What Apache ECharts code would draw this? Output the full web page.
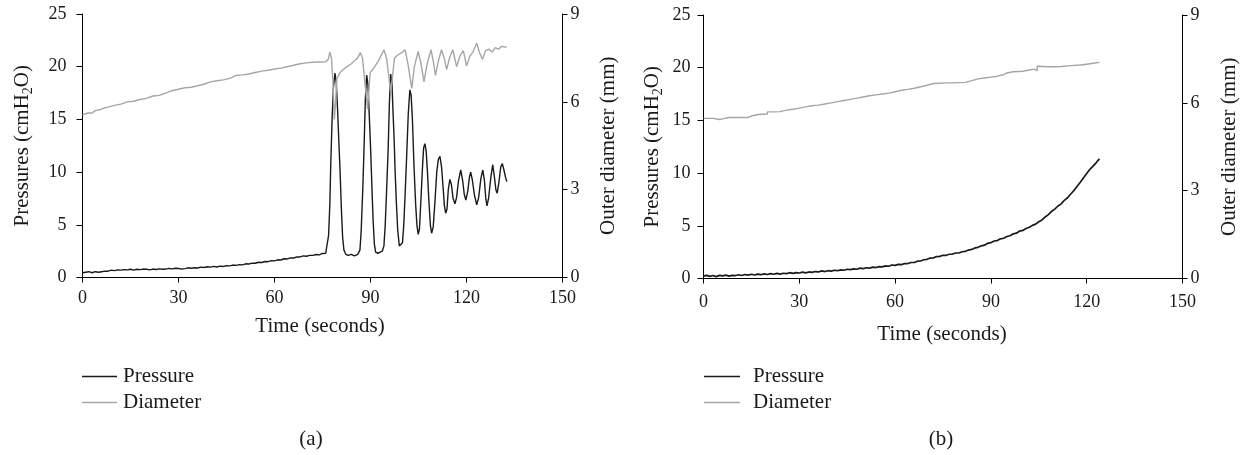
<!DOCTYPE html>
<html>
<head>
<meta charset="utf-8">
<script src="https://cdn.jsdelivr.net/npm/echarts@6/dist/echarts.min.js"></script>
<style>
html,body{margin:0;padding:0;background:#fff;}
#chart{width:1245px;height:455px;}
</style>
</head>
<body>
<div id="chart"></div>
<script>
// ---- Data (time in seconds) ----
const xTicks = [0, 30, 60, 90, 120, 150];
const leftTicks = [0, 5, 10, 15, 20, 25];
const rightTicks = [0, 3, 6, 9];
const seriesNames = ['Pressure', 'Diameter'];
const panelLabels = ['(a)', '(b)'];

// Panel (a): pressure (cmH2O)
const pressureA = [
[0,0.45],[0.5,0.6],[1,0.5],[2,0.55],[3,0.45],[4,0.55],[5,0.5],[6,0.55],[7,0.6],[8,0.6],[9,0.7],[10,0.65],[11,0.72],[12,0.7],[13,0.75],[14,0.72],[15,0.78],[16,0.7],[17,0.78],[18,0.75],[19,0.8],[20,0.78],[21,0.72],[22,0.8],[23,0.76],[24,0.82],[25,0.78],[26,0.8],[27,0.86],[28,0.82],[29,0.88],[30,0.85],[31,0.8],[32,0.84],[33,0.92],[34,0.88],[35,0.92],[36,0.9],[37,0.98],[38,0.95],[39,1.02],[40,0.98],[41,1.05],[42,1.0],[43,1.08],[44,1.05],[45,1.12],[46,1.1],[47,1.18],[48,1.15],[49,1.22],[50,1.2],[51,1.3],[52,1.28],[53,1.36],[54,1.35],[55,1.45],[56,1.42],[57,1.52],[58,1.5],[59,1.6],[60,1.58],[61,1.68],[62,1.66],[63,1.78],[64,1.76],[65,1.86],[66,1.85],[67,1.95],[68,1.95],[69,2.05],[70,2.02],[71,2.1],[72,2.1],[73,2.18],[74,2.15],[75,2.28],[76,2.3],[76.5,2.45],
[76.9,4],[77.3,7],[77.6,11],[78.0,15],[78.4,18],[78.9,19.4],[79.3,18.5],[79.7,16],[80.1,13],[80.5,10],[80.9,6.5],[81.3,3.8],[81.7,2.6],[82.3,2.2],[83,2.1],[84,2.2],[85,2.05],[86,2.2],[86.7,2.6],
[87.1,4.5],[87.6,8.5],[88.0,12.5],[88.4,17],[88.8,19.2],[89.2,18.3],[89.6,15.5],[90.0,12.5],[90.4,9],[90.8,5.5],[91.2,3.2],[91.6,2.4],[92.3,2.3],[93,2.4],[93.7,2.5],[94.2,3.0],
[94.6,5],[95.0,8],[95.5,12],[95.9,16.5],[96.3,19.3],[96.7,18.5],[97.0,16],[97.4,13],[97.7,10],[98.1,7],[98.5,4.5],[99.0,3.0],[99.5,2.9],[100.0,3.3],
[100.4,5],[100.9,8.5],[101.3,11.5],[101.8,15.5],[102.3,17.8],[102.7,17.3],[103.1,15],[103.6,10.5],[104.1,7],[104.5,5],[104.9,4.1],[105.3,4.6],[105.7,7],[106.2,10.2],[106.6,12.3],[107,12.7],[107.4,12],[107.8,10],[108.2,7.5],[108.7,5],[109.1,4.2],[109.6,4.8],[110.1,7],[110.7,10],[111.2,11.2],[111.7,11.5],[112.2,10.5],[112.7,8.5],[113.1,6.8],[113.5,6.1],[113.9,6.5],[114.3,8.3],[114.8,9.3],[115.3,8.8],[115.8,7.5],[116.4,7.0],[116.9,7.6],[117.5,9.2],[118.2,10.2],[118.8,9.2],[119.3,7.9],[119.8,7.35],[120.4,8.2],[120.9,9.5],[121.3,10],[121.8,9.3],[122.5,7.8],[123.2,6.9],[123.8,7.6],[124.5,9.4],[125.1,10.2],[125.6,9.2],[126,7.6],[126.4,6.8],[126.9,7.5],[127.6,9.5],[128.2,10.7],[128.7,9.6],[129.2,8.3],[129.6,8.0],[130.2,9.2],[130.7,10.5],[131.2,10.8],[131.7,10.2],[132.2,9.5],[132.6,9.1]
];

// Panel (a): outer diameter (mm)
const diameterA = [
[0,5.55],[1,5.6],[2,5.62],[3,5.62],[4,5.7],[5,5.72],[6,5.75],[7,5.8],[8,5.82],[10,5.88],[12,5.92],[14,6.0],[16,6.02],[18,6.08],[20,6.12],[22,6.2],[24,6.22],[26,6.3],[28,6.38],[30,6.43],[32,6.48],[34,6.5],[36,6.55],[38,6.6],[40,6.68],[42,6.72],[44,6.75],[46,6.8],[48,6.9],[50,6.92],[52,6.95],[54,7.0],[56,7.05],[58,7.08],[60,7.12],[62,7.15],[64,7.2],[66,7.25],[68,7.3],[70,7.33],[72,7.35],[74,7.36],[76,7.37],[76.8,7.45],
[77.3,7.7],[77.8,7.5],[78.3,6.6],[78.7,5.4],[79.1,6.0],[79.5,6.8],[80.5,7.0],[82,7.15],[84,7.3],[86,7.5],[86.8,7.68],[87.5,7.5],[88.3,6.6],[89.1,5.75],[89.5,6.4],[89.9,7.0],[91,7.15],[92.5,7.4],[94.2,7.78],[95,7.5],[95.7,6.9],[96.3,6.35],[96.9,6.9],[97.5,7.5],[98.5,7.6],[100,7.7],[100.8,7.78],[101.7,7.3],[102.9,6.46],[103.7,7.2],[104.9,7.72],[105.8,7.3],[106.7,6.68],[107.7,7.3],[108.9,7.78],[109.6,7.4],[110.3,6.9],[111.2,7.4],[112.2,7.78],[113,7.5],[113.8,7.1],[114.7,7.5],[115.7,7.78],[116.3,7.5],[116.9,7.2],[117.9,7.55],[119,7.75],[119.5,7.5],[120,7.22],[121,7.55],[122,7.7],[123.2,8.0],[124,7.7],[125,7.45],[126,7.75],[127,7.8],[128,7.7],[129,7.85],[130,7.8],[131,7.9],[132,7.87],[132.6,7.88]
];

// Panel (b): pressure (cmH2O)
const pressureB = [
[0,0.22],[1,0.3],[2,0.2],[3,0.28],[4,0.18],[5,0.3],[6,0.25],[7,0.32],[8,0.22],[9,0.3],[10,0.28],[11,0.36],[12,0.28],[13,0.38],[14,0.32],[15,0.4],[16,0.33],[17,0.42],[18,0.36],[19,0.44],[20,0.38],[21,0.46],[22,0.4],[23,0.48],[24,0.42],[25,0.5],[26,0.46],[27,0.55],[28,0.48],[29,0.56],[30,0.52],[31,0.6],[32,0.54],[33,0.62],[34,0.58],[35,0.66],[36,0.62],[37,0.72],[38,0.66],[39,0.74],[40,0.7],[41,0.78],[42,0.74],[43,0.82],[44,0.78],[45,0.88],[46,0.84],[47,0.92],[48,0.88],[49,0.98],[50,0.94],[51,1.02],[52,0.98],[53,1.08],[54,1.04],[55,1.12],[56,1.1],[57,1.2],[58,1.16],[59,1.28],[60,1.24],[61,1.34],[62,1.32],[63,1.42],[64,1.42],[65,1.52],[66,1.52],[67,1.64],[68,1.66],[69,1.78],[70,1.82],[71,1.94],[72,1.96],[73,2.08],[74,2.1],[75,2.2],[76,2.2],[77,2.3],[78,2.32],[79,2.42],[80,2.42],[81,2.54],[82,2.58],[83,2.7],[84,2.76],[85,2.9],[86,2.96],[87,3.1],[88,3.16],[89,3.34],[90,3.4],[91,3.56],[92,3.6],[93,3.76],[94,3.82],[95,3.98],[96,4.06],[97,4.24],[98,4.3],[99,4.5],[100,4.56],[101,4.74],[102,4.86],[103,5.04],[104,5.16],[105,5.38],[106,5.56],[107,5.84],[108,6.06],[109,6.36],[110,6.58],[111,6.88],[112,7.08],[113,7.42],[114,7.66],[115,8.02],[116,8.34],[117,8.76],[118,9.14],[119,9.56],[120,9.96],[121,10.36],[122,10.66],[123,11.0],[124,11.35]
];

// Panel (b): outer diameter (mm)
const diameterB = [
[0,5.47],[3,5.47],[3.5,5.43],[5,5.45],[6,5.5],[8,5.5],[10,5.5],[12,5.5],[14,5.55],[15,5.6],[17,5.62],[20,5.69],[22,5.7],[24,5.75],[26,5.78],[28,5.82],[30,5.86],[32,5.9],[34,5.92],[36,5.96],[38,6.0],[40,6.04],[42,6.08],[44,6.12],[46,6.16],[48,6.2],[50,6.24],[52,6.27],[54,6.3],[56,6.33],[58,6.38],[60,6.43],[62,6.46],[64,6.5],[66,6.55],[68,6.6],[70,6.66],[72,6.67],[74,6.68],[76,6.68],[78,6.69],[80,6.7],[82,6.76],[84,6.82],[86,6.85],[88,6.88],[90,6.91],[92,6.96],[94,7.02],[95,7.06],[97,7.08],[100,7.12],[102,7.15],[103.5,7.2],[104,7.1],[104.5,7.25],[105,7.23],[108,7.23],[110,7.24],[112,7.27],[115,7.29],[118,7.32],[120,7.35],[122,7.38],[124,7.4]
];

// ---- Chart ----
const FONT = '"Liberation Serif", "Times New Roman", serif';
const TXT = '#1a1a1a';
const C_P = '#1a1a1a';
const C_D = '#a6a6a6';

const chart = echarts.init(document.getElementById('chart'), null, {renderer: 'canvas'});

function xAxisCfg(gridIndex, lm) {
  return {
    gridIndex, type: 'value', min: xTicks[0], max: xTicks[xTicks.length - 1],
    interval: xTicks[1] - xTicks[0],
    axisLine: {show: true, lineStyle: {color: '#000', width: 1}},
    axisTick: {show: true, length: 5, lineStyle: {color: '#000'}},
    splitLine: {show: false},
    axisLabel: {color: TXT, fontFamily: FONT, fontSize: 18, margin: lm}
  };
}
function leftAxisCfg(gridIndex, gap, lm) {
  return {
    gridIndex, type: 'value', position: 'left',
    min: leftTicks[0], max: leftTicks[leftTicks.length - 1], interval: leftTicks[1] - leftTicks[0],
    axisLine: {show: true, lineStyle: {color: '#000', width: 1}},
    axisTick: {show: true, length: 6, lineStyle: {color: '#000'}},
    splitLine: {show: false},
    axisLabel: {color: TXT, fontFamily: FONT, fontSize: 18, margin: lm},
    name: 'Pressures (cmH{sub|2}O)', nameLocation: 'middle', nameGap: gap,
    nameTextStyle: {color: TXT, fontFamily: FONT, fontSize: 21,
      rich: {sub: {fontFamily: FONT, fontSize: 14, color: TXT, verticalAlign: 'bottom', lineHeight: 27}}}
  };
}
function rightAxisCfg(gridIndex, gap) {
  return {
    gridIndex, type: 'value', position: 'right',
    min: rightTicks[0], max: rightTicks[rightTicks.length - 1], interval: rightTicks[1] - rightTicks[0],
    axisLine: {show: true, lineStyle: {color: '#000', width: 1}},
    axisTick: {show: true, length: 5, lineStyle: {color: '#000'}},
    splitLine: {show: false},
    axisLabel: {color: TXT, fontFamily: FONT, fontSize: 18, margin: 8},
    name: 'Outer diameter (mm)', nameLocation: 'middle', nameGap: gap,
    nameTextStyle: {color: TXT, fontFamily: FONT, fontSize: 21}
  };
}
function lineSeries(name, data, xi, yi, color, width, step) {
  return {
    name, type: 'line', data, xAxisIndex: xi, yAxisIndex: yi,
    symbol: 'none', showSymbol: false, smooth: false, step: step || false,
    lineStyle: {color, width}, itemStyle: {color},
    animation: false, silent: true
  };
}

const option = {
  backgroundColor: '#fff',
  animation: false,
  grid: [
    {left: 82.5, top: 14, width: 480, height: 263.5, containLabel: false},
    {left: 703.5, top: 15, width: 479, height: 263.5, containLabel: false}
  ],
  xAxis: [xAxisCfg(0, 12), xAxisCfg(1, 15)],
  yAxis: [leftAxisCfg(0, 47, 16), rightAxisCfg(0, 35), leftAxisCfg(1, 38, 13), rightAxisCfg(1, 36)],
  legend: [
    {orient: 'vertical', left: 77, top: 361, icon: 'rect', itemWidth: 35, itemHeight: 1.5, itemGap: 5,
     data: seriesNames, selectedMode: false,
     textStyle: {color: TXT, fontFamily: FONT, fontSize: 21, lineHeight: 20, padding: [0, 0, 0, 1]}},
    {orient: 'vertical', left: 699, top: 361, icon: 'rect', itemWidth: 36, itemHeight: 1.5, itemGap: 5,
     data: seriesNames, selectedMode: false,
     textStyle: {color: TXT, fontFamily: FONT, fontSize: 21, lineHeight: 20, padding: [0, 0, 0, 8]}}
  ],
  graphic: [
    {type: 'text', x: 320, y: 326, style: {text: 'Time (seconds)', fill: TXT, font: '21px ' + FONT, textAlign: 'center', textVerticalAlign: 'middle'}},
    {type: 'text', x: 942, y: 334, style: {text: 'Time (seconds)', fill: TXT, font: '21px ' + FONT, textAlign: 'center', textVerticalAlign: 'middle'}},
    {type: 'text', x: 311, y: 439, style: {text: panelLabels[0], fill: TXT, font: '21px ' + FONT, textAlign: 'center', textVerticalAlign: 'middle'}},
    {type: 'text', x: 941, y: 439, style: {text: panelLabels[1], fill: TXT, font: '21px ' + FONT, textAlign: 'center', textVerticalAlign: 'middle'}}
  ],
  series: [
    lineSeries(seriesNames[0], pressureA, 0, 0, C_P, 1.4),
    lineSeries(seriesNames[1], diameterA, 0, 1, C_D, 1.4),
    lineSeries(seriesNames[0], pressureB, 1, 2, C_P, 1.7),
    lineSeries(seriesNames[1], diameterB, 1, 3, C_D, 1.4, 'end')
  ]
};
chart.setOption(option);
</script>
</body>
</html>
